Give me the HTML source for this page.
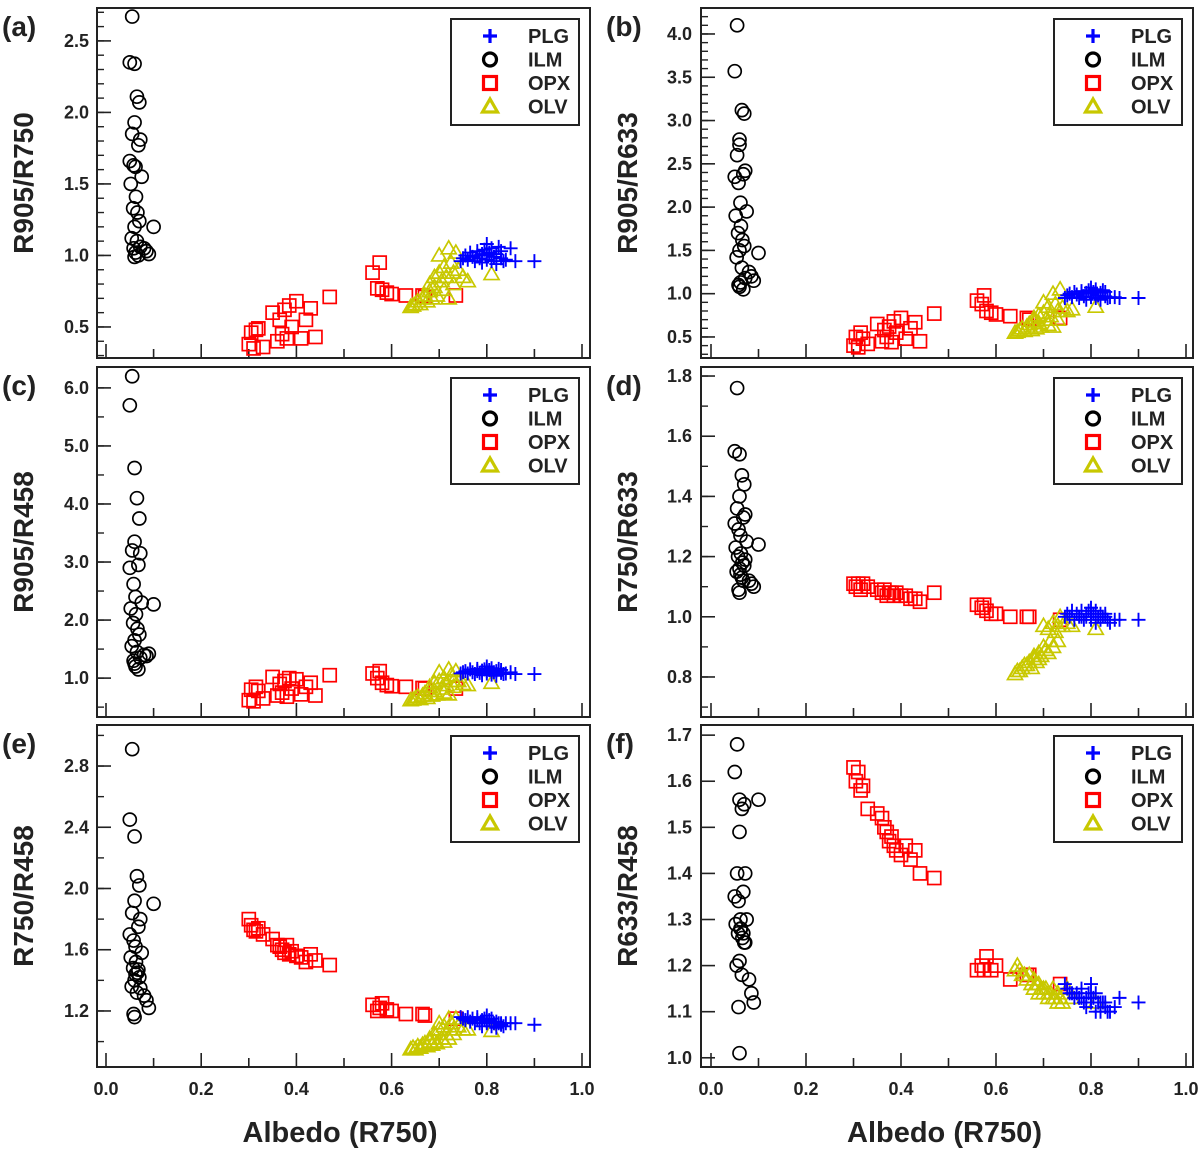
<!DOCTYPE html>
<html><head><meta charset="utf-8"><style>
html,body{margin:0;padding:0;background:#fff;}
svg{display:block;font-family:"Liberation Sans",Arial,sans-serif;}
</style></head><body>
<svg id="chart" width="1200" height="1152" viewBox="0 0 1200 1152" xmlns="http://www.w3.org/2000/svg"></svg>
<script>
// shared albedo (x) values per mineral
const ilmX=[0.055,0.05,0.06,0.065,0.07,0.06,0.055,0.072,0.068,0.05,0.058,0.062,0.075,0.052,0.063,0.057,0.066,0.07,0.06,0.054,0.065,0.08,0.085,0.09,0.1,0.058,0.06,0.062,0.068,0.072];
const opxX=[0.30,0.305,0.31,0.315,0.32,0.33,0.35,0.36,0.365,0.37,0.375,0.38,0.385,0.39,0.40,0.41,0.42,0.43,0.44,0.47,0.56,0.57,0.575,0.58,0.59,0.60,0.63,0.665,0.67,0.735];
const olvX=[0.64,0.645,0.65,0.655,0.66,0.665,0.67,0.675,0.68,0.68,0.685,0.69,0.69,0.695,0.70,0.70,0.705,0.71,0.71,0.715,0.72,0.72,0.725,0.73,0.73,0.735,0.74,0.75,0.76,0.81];
const plgX=[0.745,0.75,0.755,0.76,0.765,0.77,0.775,0.78,0.78,0.785,0.79,0.79,0.795,0.80,0.80,0.80,0.805,0.81,0.81,0.815,0.82,0.82,0.825,0.83,0.83,0.835,0.84,0.85,0.86,0.90];
// panel (a) R905/R750
const ilmA=[2.67,2.35,2.34,2.11,2.07,1.93,1.85,1.81,1.77,1.66,1.63,1.62,1.55,1.5,1.41,1.33,1.30,1.24,1.20,1.12,1.10,1.05,1.03,1.01,1.20,1.05,0.99,1.02,1.0,1.06];
const opxA=[0.38,0.46,0.35,0.48,0.49,0.36,0.60,0.40,0.55,0.45,0.62,0.42,0.65,0.50,0.68,0.42,0.55,0.63,0.43,0.71,0.88,0.77,0.95,0.76,0.74,0.73,0.72,0.72,0.71,0.72];
const olvA=[0.64,0.65,0.66,0.68,0.66,0.70,0.72,0.68,0.75,0.80,0.70,0.85,0.78,0.72,0.88,1.0,0.82,0.92,0.76,0.85,1.05,0.70,0.95,0.80,0.88,1.02,0.90,0.85,0.82,0.87];
const plgA=[0.96,0.98,1.0,0.97,1.02,0.99,0.96,1.0,1.03,0.98,1.01,0.95,1.04,1.08,0.97,1.0,1.02,0.96,1.05,0.99,1.01,0.94,1.06,0.98,1.03,0.96,0.97,1.05,0.96,0.96];
// panel (b) R905/R633
const ilmB=[4.1,3.57,2.78,3.12,3.08,2.72,2.6,2.42,2.38,2.35,2.28,2.05,1.95,1.9,1.78,1.7,1.62,1.55,1.5,1.42,1.3,1.25,1.2,1.15,1.47,1.1,1.08,1.13,1.05,1.18];
const opxB=[0.40,0.50,0.38,0.55,0.48,0.42,0.65,0.45,0.58,0.50,0.62,0.44,0.68,0.55,0.72,0.48,0.60,0.67,0.45,0.77,0.92,0.88,0.98,0.80,0.78,0.76,0.74,0.72,0.70,0.72];
const olvB=[0.55,0.56,0.58,0.60,0.57,0.62,0.65,0.58,0.68,0.72,0.60,0.75,0.66,0.62,0.78,0.90,0.70,0.85,0.64,0.74,1.0,0.62,0.88,0.70,0.80,1.05,0.84,0.80,0.82,0.85];
const plgB=[0.95,0.98,1.0,0.96,1.02,0.99,0.95,1.0,1.03,0.97,1.01,0.93,1.04,1.07,0.96,1.0,1.02,0.95,1.05,0.98,1.01,0.93,1.04,0.97,1.02,0.95,0.96,0.96,0.95,0.95];
// panel (c) R905/R458
const ilmC=[6.2,5.7,4.62,4.1,3.75,3.35,3.2,3.15,2.95,2.9,2.62,2.4,2.3,2.2,2.1,1.95,1.85,1.75,1.65,1.55,1.45,1.4,1.38,1.42,2.27,1.3,1.25,1.2,1.15,1.35];
const opxC=[0.62,0.80,0.60,0.85,0.78,0.65,1.02,0.70,0.90,0.75,0.95,0.68,1.0,0.82,0.98,0.72,0.85,0.92,0.70,1.05,1.08,1.0,1.12,0.92,0.88,0.86,0.85,0.83,0.82,0.82];
const olvC=[0.62,0.63,0.65,0.68,0.64,0.70,0.74,0.66,0.78,0.85,0.70,0.92,0.78,0.72,0.95,1.1,0.82,1.0,0.75,0.88,1.15,0.72,1.05,0.85,0.95,1.12,0.95,0.90,0.88,0.92];
const plgC=[1.08,1.10,1.12,1.08,1.15,1.1,1.07,1.12,1.16,1.09,1.13,1.05,1.15,1.2,1.08,1.12,1.14,1.06,1.17,1.1,1.12,1.04,1.16,1.09,1.14,1.07,1.08,1.1,1.07,1.07];
// panel (d) R750/R633
const ilmD=[1.76,1.55,1.54,1.47,1.44,1.40,1.36,1.34,1.33,1.31,1.29,1.27,1.25,1.23,1.21,1.20,1.18,1.17,1.16,1.15,1.13,1.12,1.11,1.10,1.24,1.09,1.08,1.14,1.12,1.19];
const opxD=[1.11,1.10,1.11,1.09,1.11,1.10,1.09,1.08,1.09,1.07,1.08,1.08,1.07,1.08,1.07,1.07,1.06,1.06,1.05,1.08,1.04,1.03,1.04,1.02,1.01,1.01,1.0,1.0,1.0,0.99];
const olvD=[0.81,0.82,0.82,0.83,0.84,0.84,0.85,0.83,0.86,0.87,0.85,0.88,0.86,0.87,0.90,0.97,0.89,0.96,0.88,0.92,0.98,0.90,0.95,0.92,0.97,1.0,0.97,0.98,0.97,0.96];
const plgD=[1.0,1.01,1.0,1.02,0.99,1.01,1.0,1.02,1.0,0.99,1.01,1.0,1.02,1.03,0.99,1.0,1.01,0.98,1.02,1.0,1.01,0.99,1.0,1.0,1.01,0.99,0.98,0.99,0.99,0.99];
// panel (e) R750/R458
const ilmE=[2.91,2.45,2.34,2.08,2.02,1.92,1.84,1.80,1.75,1.70,1.66,1.62,1.58,1.55,1.52,1.48,1.45,1.42,1.40,1.36,1.32,1.30,1.27,1.22,1.90,1.18,1.16,1.44,1.47,1.35];
const opxE=[1.80,1.76,1.73,1.72,1.74,1.70,1.67,1.63,1.62,1.60,1.58,1.63,1.57,1.59,1.56,1.55,1.52,1.57,1.53,1.50,1.24,1.20,1.22,1.25,1.21,1.20,1.18,1.18,1.17,1.15];
const olvE=[0.95,0.96,0.95,0.97,0.96,0.98,0.99,0.97,1.0,1.02,0.98,1.05,1.0,0.99,1.08,1.12,1.02,1.10,1.0,1.05,1.15,1.02,1.12,1.05,1.08,1.15,1.10,1.08,1.08,1.07];
const plgE=[1.16,1.15,1.14,1.16,1.13,1.15,1.12,1.14,1.16,1.12,1.14,1.10,1.15,1.17,1.12,1.13,1.14,1.10,1.15,1.12,1.13,1.09,1.12,1.11,1.12,1.10,1.12,1.12,1.12,1.11];
// panel (f) R633/R458
const ilmF=[1.68,1.62,1.56,1.54,1.55,1.49,1.40,1.40,1.36,1.35,1.34,1.30,1.30,1.29,1.28,1.27,1.26,1.25,1.21,1.20,1.18,1.17,1.14,1.12,1.56,1.11,1.01,1.28,1.27,1.25];
const opxF=[1.63,1.60,1.62,1.58,1.59,1.54,1.53,1.52,1.50,1.49,1.47,1.48,1.46,1.45,1.44,1.46,1.43,1.45,1.40,1.39,1.19,1.20,1.19,1.22,1.19,1.20,1.17,1.18,1.18,1.16];
const olvF=[1.19,1.20,1.19,1.18,1.18,1.17,1.18,1.16,1.17,1.15,1.16,1.16,1.14,1.15,1.15,1.14,1.15,1.14,1.13,1.14,1.13,1.15,1.13,1.14,1.12,1.13,1.12,1.15,1.13,1.12];
const plgF=[1.16,1.15,1.14,1.14,1.13,1.14,1.13,1.13,1.15,1.12,1.13,1.11,1.14,1.16,1.12,1.13,1.13,1.10,1.14,1.12,1.12,1.10,1.12,1.11,1.12,1.10,1.10,1.11,1.13,1.12];
// axis tick labels
const xTicks=["0.0","0.2","0.4","0.6","0.8","1.0"];
const ticksA=["0.5","1.0","1.5","2.0","2.5"];
const ticksB=["0.5","1.0","1.5","2.0","2.5","3.0","3.5","4.0"];
const ticksC=["1.0","2.0","3.0","4.0","5.0","6.0"];
const ticksD=["0.8","1.0","1.2","1.4","1.6","1.8"];
const ticksE=["1.2","1.6","2.0","2.4","2.8"];
const ticksF=["1.0","1.1","1.2","1.3","1.4","1.5","1.6","1.7"];
const legendNames=["PLG","ILM","OPX","OLV"];

const NS="http://www.w3.org/2000/svg";
const svg=document.getElementById('chart');
function mk(tag,attrs,parent){const e=document.createElementNS(NS,tag);for(const k in attrs)e.setAttribute(k,attrs[k]);(parent||svg).appendChild(e);return e;}

const panels=[
 {id:'a',title:'R905/R750',col:0,row:0,vmin:0.283,vmax:2.73,ticks:ticksA,minor:0.1,ilm:ilmA,opx:opxA,olv:olvA,plg:plgA},
 {id:'b',title:'R905/R633',col:1,row:0,vmin:0.257,vmax:4.30,ticks:ticksB,minor:0.1,ilm:ilmB,opx:opxB,olv:olvB,plg:plgB},
 {id:'c',title:'R905/R458',col:0,row:1,vmin:0.33,vmax:6.36,ticks:ticksC,minor:0.5,ilm:ilmC,opx:opxC,olv:olvC,plg:plgC},
 {id:'d',title:'R750/R633',col:1,row:1,vmin:0.667,vmax:1.83,ticks:ticksD,minor:0.1,ilm:ilmD,opx:opxD,olv:olvD,plg:plgD},
 {id:'e',title:'R750/R458',col:0,row:2,vmin:0.834,vmax:3.068,ticks:ticksE,minor:0.2,ilm:ilmE,opx:opxE,olv:olvE,plg:plgE},
 {id:'f',title:'R633/R458',col:1,row:2,vmin:0.98,vmax:1.722,ticks:ticksF,minor:0,ilm:ilmF,opx:opxF,olv:olvF,plg:plgF}
];
const colGeo=[{L:97,R:590,x0:106,x1:582,lab:89,tit:24},{L:701,R:1193,x0:711,x1:1186,lab:692,tit:628}];
const rowGeo=[{T:8,B:358},{T:367,B:717},{T:725,B:1067}];

function drawMarker(type,cx,cy,g){
 let e;
 if(type==='ilm'){e=mk('circle',{cx:cx,cy:cy,r:6.5,fill:'none',stroke:'#000','stroke-width':1.7},g);}
 else if(type==='opx'){e=mk('rect',{x:cx-6.5,y:cy-6.5,width:13,height:13,fill:'none',stroke:'#f00','stroke-width':1.7},g);}
 else if(type==='olv'){e=mk('polygon',{points:`${cx},${cy-7.5} ${cx-7.5},${cy+5.5} ${cx+7.5},${cy+5.5}`,fill:'none',stroke:'#c8c800','stroke-width':1.7},g);}
 else {e=mk('path',{d:`M${cx-7},${cy}H${cx+7}M${cx},${cy-7}V${cy+7}`,stroke:'#00f','stroke-width':1.9,fill:'none'},g);}
 return e;
}

panels.forEach(p=>{
 const c=colGeo[p.col],r=rowGeo[p.row];
 const X=v=>c.x0+(c.x1-c.x0)*v;
 const Y=v=>r.B-(v-p.vmin)/(p.vmax-p.vmin)*(r.B-r.T);
 const g=mk('g',{});
 
 
 for(let i=0;i<=10;i++){
  const t=mk('line',{x1:X(i/10),x2:X(i/10),y1:r.B,y2:r.B-(i%2===0?14:9),stroke:'#222','stroke-width':1.6},g);
  
  
 }
 if(p.row===2){
  xTicks.forEach(s=>{const t=mk('text',{x:X(parseFloat(s)),y:1095,'text-anchor':'middle','font-size':18,'font-weight':'bold',fill:'#222'},g);t.textContent=s;
   
   });
  const xt=mk('text',{x:(c.x0+c.x1)/2-4,y:1142,'text-anchor':'middle','font-size':29,'font-weight':'bold',fill:'#222'},g);
  xt.textContent='Albedo (R750)';
  
  
 }
 if(p.minor>0){
  const start=Math.ceil(p.vmin/p.minor)*p.minor;
  for(let v=start;v<=p.vmax+1e-9;v+=p.minor){
   const t=mk('line',{x1:c.L,x2:c.L+7,y1:Y(v),y2:Y(v),stroke:'#222','stroke-width':1.4},g);
   
   
  }
 }
 p.ticks.forEach(s=>{
  const v=parseFloat(s);
  const t=mk('line',{x1:c.L,x2:c.L+14,y1:Y(v),y2:Y(v),stroke:'#222','stroke-width':1.6},g);
  
  
  const l=mk('text',{x:c.lab,y:Y(v)+6,'text-anchor':'end','font-size':18,'font-weight':'bold',fill:'#222'},g);
  l.textContent=s;
  
  
 });
 const yt=mk('text',{x:0,y:0,'text-anchor':'middle','font-size':28,'font-weight':'bold',fill:'#222',transform:`translate(${c.tit+9},${(r.T+r.B)/2}) rotate(-90)`},g);
 yt.textContent=p.title;
 
 
 const pl=mk('text',{x:c.L-95,y:r.T+28,'font-size':28,'font-weight':'bold',fill:'#222'},g);
 pl.textContent='('+p.id+')';
 
 
 const series=[['opx',opxX,p.opx],['olv',olvX,p.olv],['plg',plgX,p.plg],['ilm',ilmX,p.ilm]];
 series.forEach(([type,xs,ys])=>{
  const sg=mk('g',{},g);
  
  
  for(let i=0;i<xs.length;i++){
   const m=drawMarker(type,X(xs[i]),Y(ys[i]),sg);
   
   
  }
 });
 const fr=mk('rect',{x:c.L,y:r.T,width:c.R-c.L,height:r.B-r.T,fill:'none',stroke:'#222','stroke-width':2},g);
 
 
 const lx=c.R-139,ly=r.T+11;
 const lg=mk('g',{},g);
 
 
 mk('rect',{x:lx,y:ly,width:128,height:106,fill:'#fff',stroke:'#222','stroke-width':2},lg);
 const types=['plg','ilm','opx','olv'];
 legendNames.forEach((n,i)=>{
  const ey=ly+17+i*23.5;
  const m=drawMarker(types[i],lx+39,ey,lg);
  m.setAttribute('stroke-width',3.2);
  
  
  const t=mk('text',{x:lx+77,y:ey+7,'font-size':20,'font-weight':'bold',fill:'#222'},lg);
  t.textContent=n;
  
  
 });
});
</script>
</body></html>
